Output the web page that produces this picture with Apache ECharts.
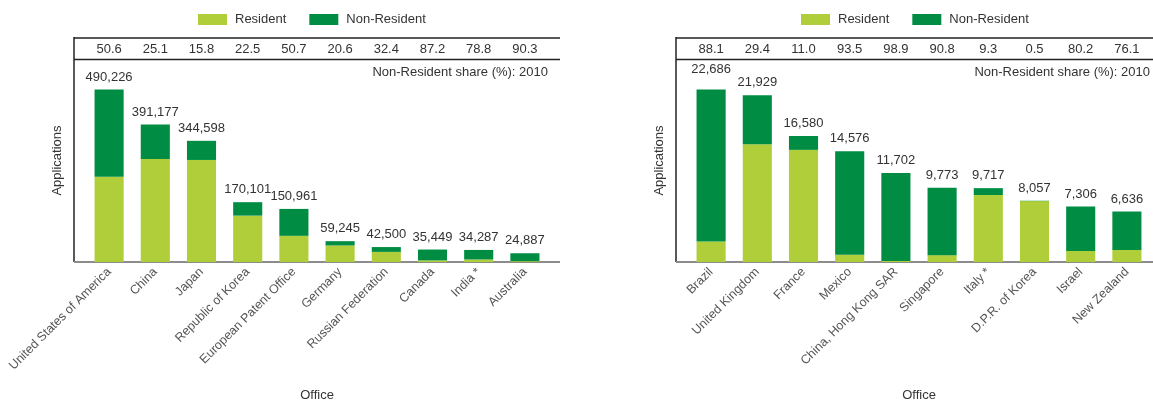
<!DOCTYPE html>
<html>
<head>
<meta charset="utf-8">
<script src="https://cdn.jsdelivr.net/npm/echarts@6/dist/echarts.min.js"></script>
<style>
html,body{margin:0;padding:0;background:#fff;}
#c{width:1153px;height:403px;}
</style>
</head>
<body>
<div id="c"></div>
<script>
// ---- data (left panel) ----
var leftCategories = ['United States of America','China','Japan','Republic of Korea','European Patent Office','Germany','Russian Federation','Canada','India *','Australia'];
var leftShare = ['50.6','25.1','15.8','22.5','50.7','20.6','32.4','87.2','78.8','90.3'];
var leftTotals = [490226,391177,344598,170101,150961,59245,42500,35449,34287,24887];
var leftResident = [242172,292992,290152,131828,74424,47041,28730,4537,7269,2414];
var leftNonResident = [248054,98185,54446,38273,76537,12204,13770,30912,27018,22473];

// ---- data (right panel) ----
var rightCategories = ['Brazil','United Kingdom','France','Mexico','China, Hong Kong SAR','Singapore','Italy *','D.P.R. of Korea','Israel','New Zealand'];
var rightShare = ['88.1','29.4','11.0','93.5','98.9','90.8','9.3','0.5','80.2','76.1'];
var rightTotals = [22686,21929,16580,14576,11702,9773,9717,8057,7306,6636];
var rightResident = [2700,15482,14756,947,129,899,8813,8017,1447,1586];
var rightNonResident = [19986,6447,1824,13629,11573,8874,904,40,5859,5050];

var seriesNames = ['Resident','Non-Resident'];
var shareTitle = 'Non-Resident share (%): 2010';
var xTitle = 'Office';
var yTitle = 'Applications';

var FONT = 'Liberation Sans, Arial, sans-serif';
var LIGHT = '#afce3a';
var DARK = '#008d43';
var TXT = '#333';

function fmt(n){ return n.toString().replace(/\B(?=(\d{3})+(?!\d))/g, ','); }

var chart = echarts.init(document.getElementById('c'), null, {renderer:'canvas'});

var panels = [
  {cats:leftCategories, share:leftShare, totals:leftTotals, res:leftResident, non:leftNonResident,
   axisX:74, endX:560, gridLeft:86, gridWidth:462, yMax:577240, legendLeft:198, raiseFirst:false},
  {cats:rightCategories, share:rightShare, totals:rightTotals, res:rightResident, non:rightNonResident,
   axisX:676, endX:1163, gridLeft:688, gridWidth:462, yMax:26713, legendLeft:801, raiseFirst:true}
];

var TOP = 59, BOTTOM = 262;

var option = {
  backgroundColor:'#fff',
  animation:false,
  textStyle:{fontFamily:FONT},
  color:[LIGHT, DARK],
  legend:[], grid:[], xAxis:[], yAxis:[], series:[], graphic:[]
};

panels.forEach(function(p, i){
  option.legend.push({
    left:p.legendLeft, top:13, padding:0,
    itemWidth:29, itemHeight:11, itemGap:23,
    icon:'rect',
    data:seriesNames,
    textStyle:{fontFamily:FONT, fontSize:13, color:TXT, padding:[0,0,0,3]}
  });
  option.grid.push({left:p.gridLeft, width:p.gridWidth, top:TOP, height:BOTTOM-TOP,
    containLabel:false, outerBoundsMode:'none'});
  option.xAxis.push({
    type:'category', gridIndex:i, data:p.cats, position:'bottom',
    axisLine:{show:false}, axisTick:{show:false},
    axisLabel:{rotate:45, margin:8, fontFamily:FONT, fontSize:12.5, color:'#555', interval:0},
    name:xTitle, nameLocation:'middle', nameGap:127,
    nameTextStyle:{fontFamily:FONT, fontSize:13, color:TXT}
  });
  option.xAxis.push({
    type:'category', gridIndex:i, data:p.share, position:'top',
    axisLine:{show:false}, axisTick:{show:false},
    axisLabel:{margin:3, fontFamily:FONT, fontSize:13, color:TXT, interval:0}
  });
  option.yAxis.push({
    type:'value', gridIndex:i, min:0, max:p.yMax,
    axisLine:{show:false}, axisTick:{show:false}, axisLabel:{show:false}, splitLine:{show:false},
    name:yTitle, nameLocation:'middle', nameGap:p.gridLeft - p.axisX + 10, nameRotate:90,
    nameTextStyle:{fontFamily:FONT, fontSize:13, color:TXT}
  });
  option.series.push({
    name:seriesNames[0], type:'bar', stack:'s'+i, xAxisIndex:i*2, yAxisIndex:i,
    data:p.res, barWidth:'63%', itemStyle:{color:LIGHT}
  });
  option.series.push({
    name:seriesNames[1], type:'bar', stack:'s'+i, xAxisIndex:i*2, yAxisIndex:i,
    data:p.non, barWidth:'63%', itemStyle:{color:DARK},
    label:{show:true, position:'top', distance:6, fontFamily:FONT, fontSize:13, color:TXT,
      formatter:(function(tot){ return function(prm){ return fmt(tot[prm.dataIndex]); }; })(p.totals)},
    labelLayout: p.raiseFirst ? function(prm){ return prm.dataIndex === 0 ? {dy:-8} : {}; } : undefined
  });
  var endX = Math.min(p.endX, 1153);
  var dark = {stroke:'#222', lineWidth:1.5};
  option.graphic.push(
    {type:'line', silent:true, shape:{x1:p.axisX, y1:37, x2:p.axisX, y2:BOTTOM}, style:dark},
    {type:'line', silent:true, shape:{x1:p.axisX, y1:38, x2:endX, y2:38}, style:dark},
    {type:'line', silent:true, shape:{x1:p.axisX, y1:59.5, x2:endX, y2:59.5}, style:dark},
    {type:'line', silent:true, shape:{x1:p.axisX, y1:BOTTOM, x2:endX, y2:BOTTOM}, style:{stroke:'#8c8c8c', lineWidth:2}},
    {type:'text', silent:true, x:p.gridLeft + p.gridWidth, y:72,
      style:{text:shareTitle, fontFamily:FONT, fontSize:13, fill:TXT, textAlign:'right', textVerticalAlign:'middle'}}
  );
});

chart.setOption(option);
</script>
</body>
</html>
